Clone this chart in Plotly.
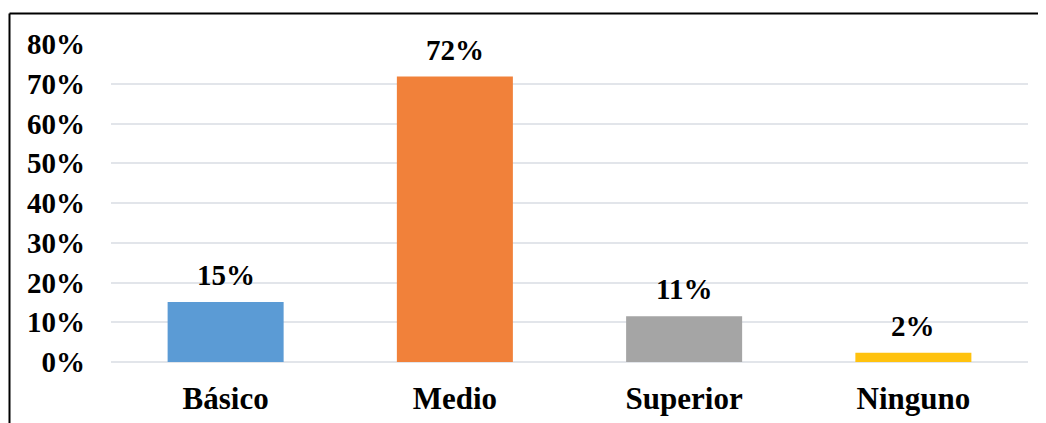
import plotly.graph_objects as go

categories = ["Básico", "Medio", "Superior", "Ninguno"]
values = [15.1, 71.8, 11.5, 2.3]
labels = ["15%", "72%", "11%", "2%"]
colors = ["#5B9BD5", "#F1813A", "#A5A5A5", "#FFC20E"]
y_ticks = [0, 10, 20, 30, 40, 50, 60, 70, 80]
y_tick_text = [f"{v}%" for v in y_ticks]

FONT = "Liberation Serif"
OFF = 8  # default page body margin

fig = go.Figure()
fig.add_trace(go.Bar(
    x=categories, y=values,
    marker=dict(color=colors, line=dict(width=0)),
    width=0.506,
    hoverinfo="skip",
))

for c, v, t in zip(categories, values, labels):
    fig.add_annotation(x=c, y=v, text=f"<b>{t}</b>", showarrow=False,
                       yanchor="bottom", yshift=9,
                       font=dict(family=FONT, size=29, color="black"))

W, H = 1046 - OFF, 423 - OFF
L, R, T, B = 111 - OFF, 18, 44 - OFF, 61
pw, ph = W - L - R, H - T - B

def px(x):
    return (x - OFF - L) / pw

def py(y):
    return (H - B - (y - OFF)) / ph

fig.add_shape(type="line", xref="paper", yref="paper",
              x0=px(9.5), x1=px(1070), y0=py(13.5), y1=py(13.5),
              line=dict(color="black", width=2))
fig.add_shape(type="line", xref="paper", yref="paper",
              x0=px(9.5), x1=px(9.5), y0=py(13.5), y1=py(450),
              line=dict(color="black", width=2))

fig.update_layout(
    width=W, height=H,
    margin=dict(l=L, r=R, t=T, b=B, pad=0, autoexpand=False),
    paper_bgcolor="white", plot_bgcolor="white",
    showlegend=False,
    font=dict(family=FONT, size=29, color="black"),
    xaxis=dict(
        tickvals=categories,
        ticktext=[f"<b>{c}</b>" for c in categories],
        tickfont=dict(family=FONT, size=31, color="black"),
        showgrid=False, showline=False, ticks="",
        ticklabelstandoff=15, automargin=False,
    ),
    yaxis=dict(
        range=[0, 80],
        tickvals=y_ticks,
        ticktext=[f"<b>{t}</b>" for t in y_tick_text],
        tickfont=dict(family=FONT, size=29, color="black"),
        showgrid=True, gridcolor="#E2E5EA", gridwidth=2,
        zeroline=True, zerolinecolor="#E2E5EA", zerolinewidth=2,
        showline=False, ticks="",
        ticklabelstandoff=25, automargin=False,
    ),
)

fig.write_html("out.html")
